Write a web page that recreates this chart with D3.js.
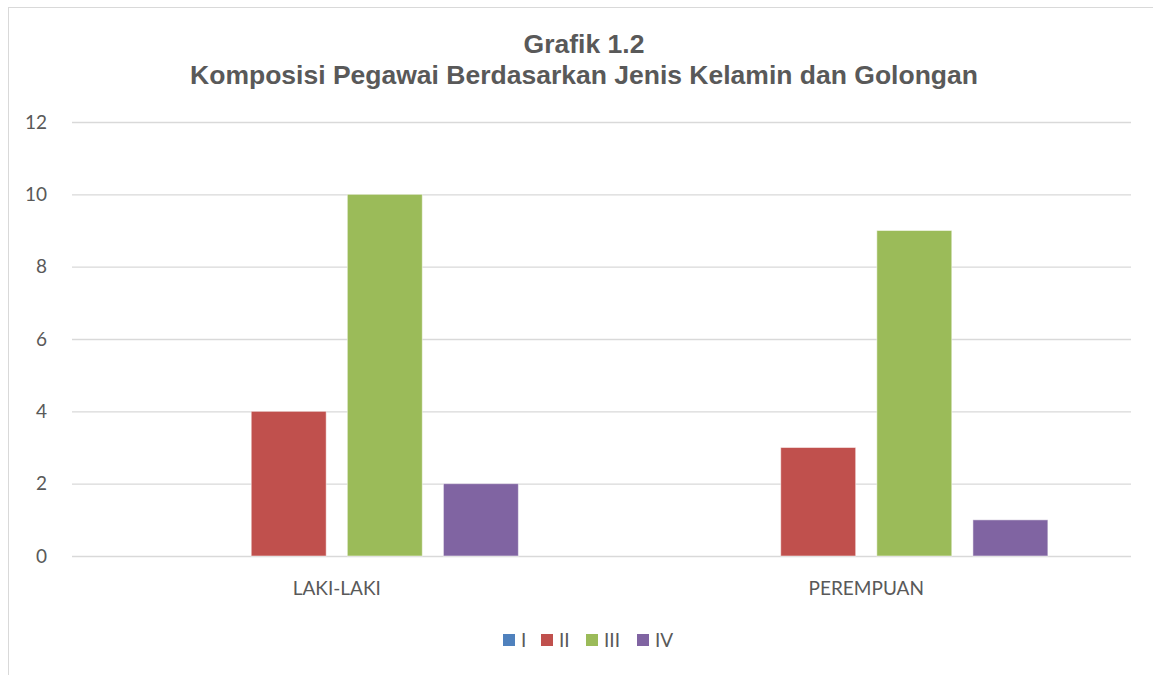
<!DOCTYPE html>
<html>
<head>
<meta charset="utf-8">
<script src="https://cdn.jsdelivr.net/npm/d3@7"></script>
<style>
  body { margin: 0; background: #fff; }
  svg { display: block; }
</style>
</head>
<body>
<svg id="chart" width="1153" height="675"></svg>
<script>
// data
var categories = ["LAKI-LAKI", "PEREMPUAN"];
var series = ["I", "II", "III", "IV"];
var valuesLaki = [0, 4, 10, 2];
var valuesPerempuan = [0, 3, 9, 1];
var yTicks = [0, 2, 4, 6, 8, 10, 12];
var colors = ["#4F81BD", "#C0504D", "#9BBB59", "#8064A2"];

var svg = d3.select("#chart");
var width = +svg.attr("width");
var height = +svg.attr("height");

// plot area bounds
var plotLeft = 72, plotRight = 1131, plotTop = 122, plotBottom = 556;
var labelFont = "Lato, 'Open Sans', sans-serif";

var rows = categories.map(function (c, i) {
  return { cat: c, vals: [valuesLaki, valuesPerempuan][i] };
});

// chart border
svg.append("rect")
  .attr("x", 8.5).attr("y", 7.5)
  .attr("width", width + 10).attr("height", height + 10)
  .attr("fill", "none").attr("stroke", "#D9D9D9");

var x0 = d3.scaleBand().domain(categories).range([plotLeft, plotRight]).padding(0);
var groupW = x0.bandwidth() * 0.686;
var x1 = d3.scaleBand().domain(series).range([0, groupW]).paddingInner(0.22).paddingOuter(0);
var y = d3.scaleLinear().domain([0, 12]).range([plotBottom, plotTop]);

// gridlines
svg.append("g").selectAll("line")
  .data(yTicks)
  .join("line")
  .attr("x1", plotLeft).attr("x2", plotRight)
  .attr("y1", function (d) { return y(d) + 0.5; })
  .attr("y2", function (d) { return y(d) + 0.5; })
  .attr("stroke", "#D9D9D9").attr("stroke-width", 1.3);

// y labels
svg.append("g").selectAll("text")
  .data(yTicks)
  .join("text")
  .attr("x", 47).attr("y", function (d) { return y(d); })
  .attr("dy", "0.35em")
  .attr("text-anchor", "end")
  .attr("font-family", labelFont)
  .attr("font-size", 19)
  .attr("fill", "#595959")
  .text(function (d) { return d; });

// bars
var groups = svg.append("g").selectAll("g")
  .data(rows)
  .join("g")
  .attr("transform", function (d) {
    return "translate(" + (x0(d.cat) + (x0.bandwidth() - groupW) / 2) + ",0)";
  });

groups.selectAll("rect")
  .data(function (d) { return d.vals.map(function (v, i) { return { s: series[i], v: v, c: colors[i] }; }); })
  .join("rect")
  .filter(function (d) { return d.v > 0; })
  .attr("x", function (d) { return x1(d.s); })
  .attr("y", function (d) { return y(d.v); })
  .attr("width", x1.bandwidth())
  .attr("height", function (d) { return y(0) - y(d.v); })
  .attr("fill", function (d) { return d.c; })
  .attr("stroke", "#ffffff").attr("stroke-opacity", 0.5).attr("stroke-width", 1);

// category labels
svg.append("g").selectAll("text")
  .data(categories)
  .join("text")
  .attr("x", function (d) { return x0(d) + x0.bandwidth() / 2; })
  .attr("y", 595)
  .attr("text-anchor", "middle")
  .attr("font-family", labelFont)
  .attr("font-size", 19)
  .attr("fill", "#595959")
  .text(function (d) { return d; });

// title
var title = svg.append("text")
  .attr("text-anchor", "middle")
  .attr("font-family", "'Liberation Sans', Arial, sans-serif")
  .attr("font-weight", "bold")
  .attr("font-size", 26.5)
  .attr("fill", "#595959");
title.append("tspan").attr("x", 584).attr("y", 53).text("Grafik 1.2");
title.append("tspan").attr("x", 584).attr("y", 84).text("Komposisi Pegawai Berdasarkan Jenis Kelamin dan Golongan");

// legend
var legendX = [503, 541, 586, 637];
var legend = svg.append("g").selectAll("g")
  .data(series)
  .join("g")
  .attr("transform", function (d, i) { return "translate(" + legendX[i] + ",634)"; });
legend.append("rect")
  .attr("width", 12).attr("height", 12)
  .attr("fill", function (d, i) { return colors[i]; });
legend.append("text")
  .attr("x", 18).attr("y", 6).attr("dy", "0.35em")
  .attr("font-family", labelFont)
  .attr("font-size", 19)
  .attr("fill", "#595959")
  .text(function (d) { return d; });
</script>
</body>
</html>
